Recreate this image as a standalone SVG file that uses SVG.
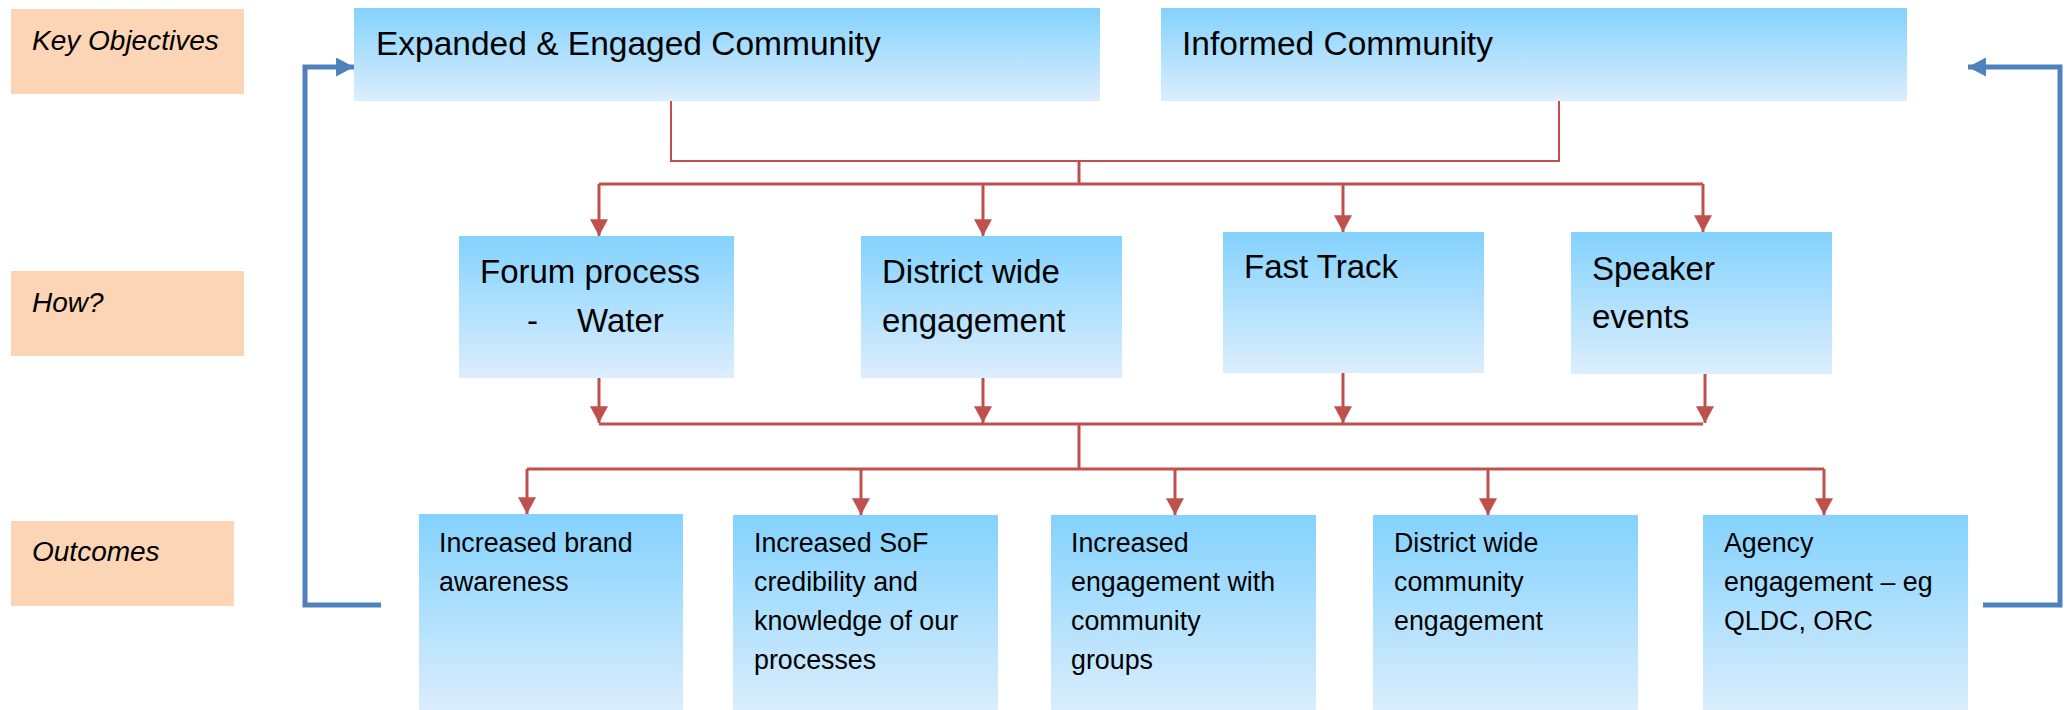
<svg xmlns="http://www.w3.org/2000/svg" width="2069" height="710" viewBox="0 0 2069 710">
<defs>
<linearGradient id="bg" x1="0" y1="0" x2="0" y2="1">
<stop offset="0" stop-color="#83D2FE"/>
<stop offset="1" stop-color="#DCEEFD"/>
</linearGradient>
<marker id="ra" markerUnits="userSpaceOnUse" markerWidth="18" markerHeight="18" viewBox="0 0 16 16" refX="15" refY="8" orient="auto">
<path d="M0,0 L15,8 L0,16 Z" fill="#C0504D"/>
</marker>
<marker id="ba" markerUnits="userSpaceOnUse" markerWidth="19" markerHeight="19" viewBox="0 0 18 18" refX="17" refY="9" orient="auto">
<path d="M0,0 L17,9 L0,18 Z" fill="#4F81BD"/>
</marker>
</defs>
<style>
.box{fill:url(#bg)}
.lab{fill:#FBD5B5}
.t1{font-family:"Liberation Sans",Arial,sans-serif;font-size:33.5px;fill:#000}
.t2{font-family:"Liberation Sans",Arial,sans-serif;font-size:33px;fill:#000}
.t3{font-family:"Liberation Sans",Arial,sans-serif;font-size:26.8px;fill:#000}
.tl{font-family:"Liberation Sans",Arial,sans-serif;font-size:28px;font-style:italic;fill:#000}
.thin{stroke:#C0504D;stroke-width:2;fill:none}
.red{stroke:#C0504D;stroke-width:3;fill:none}
.arr{stroke:#C0504D;stroke-width:3;fill:none;marker-end:url(#ra)}
.blue{stroke:#4F81BD;stroke-width:5;fill:none;marker-end:url(#ba)}
</style>

<g id="label-key">
<rect class="lab" x="11" y="9" width="233" height="85"/>
<text class="tl" x="32" y="50">Key Objectives</text>
</g>
<g id="label-how">
<rect class="lab" x="11" y="271" width="233" height="85"/>
<text class="tl" x="32" y="312">How?</text>
</g>
<g id="label-outcomes">
<rect class="lab" x="11" y="521" width="223" height="85"/>
<text class="tl" x="32" y="561">Outcomes</text>
</g>

<g id="obj-expanded">
<rect class="box" x="354" y="8" width="746" height="93"/>
<text class="t1" x="376" y="55">Expanded &amp; Engaged Community</text>
</g>
<g id="obj-informed">
<rect class="box" x="1161" y="8" width="746" height="93"/>
<text class="t1" x="1182" y="55">Informed Community</text>
</g>

<g id="how-forum">
<rect class="box" x="459" y="236" width="275" height="142"/>
<text class="t2" x="480" y="283">Forum process</text>
<text class="t2" x="527" y="332">-</text>
<text class="t2" x="577" y="332">Water</text>
</g>
<g id="how-district">
<rect class="box" x="861" y="236" width="261" height="142"/>
<text class="t2" x="882" y="283">District wide</text>
<text class="t2" x="882" y="332">engagement</text>
</g>
<g id="how-fasttrack">
<rect class="box" x="1223" y="232" width="261" height="141"/>
<text class="t2" x="1244" y="278">Fast Track</text>
</g>
<g id="how-speaker">
<rect class="box" x="1571" y="232" width="261" height="142"/>
<text class="t2" x="1592" y="280">Speaker</text>
<text class="t2" x="1592" y="328">events</text>
</g>

<g id="out-brand">
<rect class="box" x="419" y="514" width="264" height="200"/>
<text class="t3" x="439" y="552">Increased brand</text>
<text class="t3" x="439" y="591">awareness</text>
</g>
<g id="out-sof">
<rect class="box" x="733" y="515" width="265" height="200"/>
<text class="t3" x="754" y="552">Increased SoF</text>
<text class="t3" x="754" y="591">credibility and</text>
<text class="t3" x="754" y="630">knowledge of our</text>
<text class="t3" x="754" y="669">processes</text>
</g>
<g id="out-groups">
<rect class="box" x="1051" y="515" width="265" height="200"/>
<text class="t3" x="1071" y="552">Increased</text>
<text class="t3" x="1071" y="591">engagement with</text>
<text class="t3" x="1071" y="630">community</text>
<text class="t3" x="1071" y="669">groups</text>
</g>
<g id="out-district">
<rect class="box" x="1373" y="515" width="265" height="200"/>
<text class="t3" x="1394" y="552">District wide</text>
<text class="t3" x="1394" y="591">community</text>
<text class="t3" x="1394" y="630">engagement</text>
</g>
<g id="out-agency">
<rect class="box" x="1703" y="515" width="265" height="200"/>
<text class="t3" x="1724" y="552">Agency</text>
<text class="t3" x="1724" y="591">engagement – eg</text>
<text class="t3" x="1724" y="630">QLDC, ORC</text>
</g>

<g id="connectors">
<path class="thin" d="M671,101 V161 H1559 V101"/>
<path class="red" d="M1079,161 V184"/>
<path class="red" d="M599,184 H1703"/>
<path class="arr" d="M599,184 V236"/>
<path class="arr" d="M983,184 V236"/>
<path class="arr" d="M1343,184 V232"/>
<path class="arr" d="M1703,184 V232"/>
<path class="arr" d="M599,378 V423"/>
<path class="arr" d="M983,378 V423"/>
<path class="arr" d="M1343,373 V423"/>
<path class="arr" d="M1705,374 V423"/>
<path class="red" d="M599,424 H1703"/>
<path class="red" d="M1079,424 V469"/>
<path class="red" d="M527,469 H1824"/>
<path class="arr" d="M527,469 V514"/>
<path class="arr" d="M861,469 V515"/>
<path class="arr" d="M1175,469 V515"/>
<path class="arr" d="M1488,469 V515"/>
<path class="arr" d="M1824,469 V515"/>
<path class="blue" d="M381,605 H305 V67 H354"/>
<path class="blue" d="M1983,605 H2060 V67 H1968"/>
</g>
</svg>
